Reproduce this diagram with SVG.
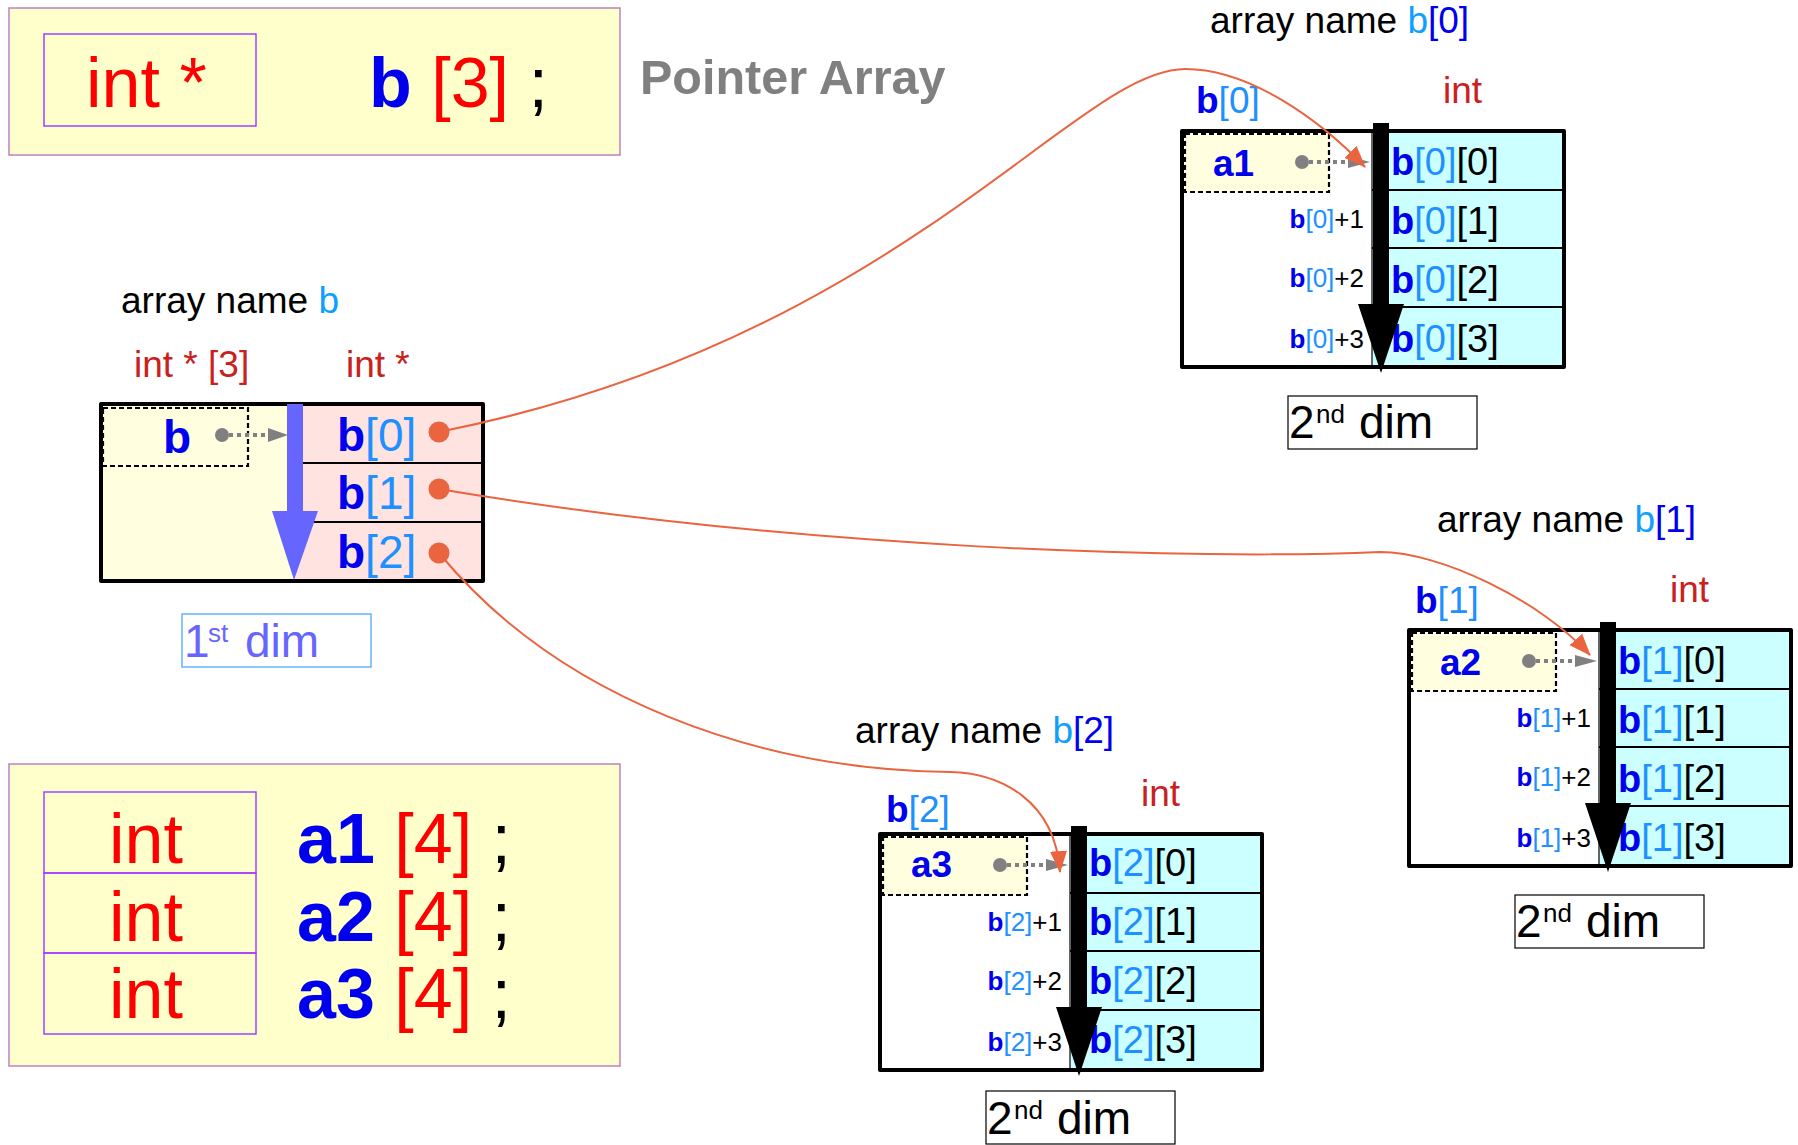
<svg xmlns="http://www.w3.org/2000/svg" width="1798" height="1145" viewBox="0 0 1798 1145">
<style>
text{font-family:"Liberation Sans",Arial,sans-serif}
.bl{fill:#0000ee;font-weight:bold}
.lb{fill:#1e90ff;font-weight:normal}
.bk{fill:#000}
.dr{fill:#c9211e}
.rd{fill:#ff0000}
.nm{font-size:37px}
.cell{font-size:38px}
.off{font-size:26px}
.decl{fill:#ffffcc;stroke:#c080c0;stroke-width:1.5}
.inbox{fill:none;stroke:#a040ff;stroke-width:1.5}
.dot{stroke:#000;stroke-width:2.2;stroke-dasharray:5 3}
.gl{stroke:#808080;stroke-width:4;stroke-dasharray:4 4;fill:none}
.div{stroke:#000;stroke-width:2}
.outer{fill:none;stroke:#000;stroke-width:4;stroke-linejoin:round}
.conn{fill:none;stroke:#e9643f;stroke-width:2}
.dimbox{fill:#fff;stroke:#000;stroke-width:1.2}
</style>
<defs>
<marker id="oarrow" markerUnits="userSpaceOnUse" markerWidth="24" markerHeight="20" refX="21" refY="9" orient="auto" viewBox="0 0 24 18">
<path d="M0,0.5 L22,9 L0,17.5 z" fill="#e9643f"/>
</marker>
<g id="arr2d">
<rect x="0" y="0" width="382" height="236" fill="#fff"/>
<rect x="190" y="0" width="192" height="236" fill="#ccffff"/>
<line x1="190" y1="0" x2="190" y2="236" stroke="#333" stroke-width="1.5"/>
<line class="div" x1="190" y1="59" x2="382" y2="59"/>
<line class="div" x1="190" y1="117" x2="382" y2="117"/>
<line class="div" x1="190" y1="176" x2="382" y2="176"/>
<rect class="dot" x="3" y="3" width="144" height="58" fill="#ffffe0"/>
<circle cx="120" cy="31" r="7" fill="#808080"/>
<line class="gl" x1="127" y1="31" x2="168" y2="31"/>
<path d="M166,25 L188,31 L166,37 z" fill="#808080"/>
<rect class="outer" x="0" y="0" width="382" height="236"/>
</g>
<g id="arrow2d">
<rect x="191" y="-8" width="16" height="182" fill="#000"/>
<path d="M176,173 L222,173 L199,242 z" fill="#000"/>
</g>
</defs>

<g id="decl-b">
<rect class="decl" x="9" y="8" width="611" height="147"/>
<rect class="inbox" x="44" y="34" width="212" height="92"/>
<text x="86" y="107" font-size="70" class="rd">int *</text>
<text x="369" y="107" font-size="70"><tspan class="bl">b</tspan><tspan class="rd"> [3]</tspan><tspan class="bk"> ;</tspan></text>
</g>

<g id="title">
<text x="640" y="94" font-size="48.5" font-weight="bold" fill="#808080">Pointer Array</text>
</g>

<g id="decl-a">
<rect class="decl" x="9" y="764" width="611" height="302"/>
<rect class="inbox" x="44" y="792" width="212" height="81"/>
<rect class="inbox" x="44" y="873" width="212" height="80"/>
<rect class="inbox" x="44" y="953" width="212" height="81"/>
<text x="109" y="863" font-size="70" class="rd">int</text>
<text x="109" y="941" font-size="70" class="rd">int</text>
<text x="109" y="1018" font-size="70" class="rd">int</text>
<text x="297" y="863" font-size="70"><tspan class="bl">a1</tspan><tspan class="rd"> [4]</tspan><tspan class="bk"> ;</tspan></text>
<text x="297" y="941" font-size="70"><tspan class="bl">a2</tspan><tspan class="rd"> [4]</tspan><tspan class="bk"> ;</tspan></text>
<text x="297" y="1018" font-size="70"><tspan class="bl">a3</tspan><tspan class="rd"> [4]</tspan><tspan class="bk"> ;</tspan></text>
</g>

<g id="array-b">
<text x="121" y="313" class="nm"><tspan class="bk">array name </tspan><tspan fill="#0fa0ff">b</tspan></text>
<text x="134" y="377" class="nm dr">int * [3]</text>
<text x="346" y="377" class="nm dr">int *</text>
<rect x="101" y="404" width="192" height="177" fill="#ffffe0"/>
<rect x="293" y="404" width="190" height="177" fill="#ffe3e1"/>
<line class="div" x1="293" y1="463" x2="483" y2="463"/>
<line class="div" x1="293" y1="522" x2="483" y2="522"/>
<rect class="dot" x="103" y="408" width="145" height="58" fill="#ffffe0"/>
<text x="163" y="453" font-size="46" class="bl">b</text>
<circle cx="222" cy="435" r="7" fill="#808080"/>
<line class="gl" x1="229" y1="435" x2="270" y2="435"/>
<path d="M268,428 L288,435 L268,442 z" fill="#808080"/>
<text x="337" y="451" font-size="46"><tspan class="bl">b</tspan><tspan class="lb">[0]</tspan></text>
<text x="337" y="509" font-size="46"><tspan class="bl">b</tspan><tspan class="lb">[1]</tspan></text>
<text x="337" y="568" font-size="46"><tspan class="bl">b</tspan><tspan class="lb">[2]</tspan></text>
<circle cx="439" cy="432" r="10.5" fill="#e9643f"/>
<circle cx="439" cy="489" r="10.5" fill="#e9643f"/>
<circle cx="439" cy="553" r="10.5" fill="#e9643f"/>
<rect class="outer" x="101" y="404" width="382" height="177"/>
<rect x="287" y="404" width="16" height="108" fill="#6666ff"/>
<path d="M272,511 L318,511 L294,580 z" fill="#6666ff"/>
<rect x="182" y="614" width="189" height="53" fill="#fff" stroke="#66b3ff" stroke-width="1.5"/>
<text x="184" y="657" font-size="46" fill="#6666ff">1</text>
<text x="208" y="642" font-size="26" fill="#6666ff">st</text>
<text x="245" y="657" font-size="46" fill="#6666ff">dim</text>
</g>

<g id="array-b0" transform="translate(1182,131)">
<text x="28" y="-98" class="nm"><tspan class="bk">array name </tspan><tspan fill="#0fa0ff">b</tspan><tspan fill="#0000ee">[0]</tspan></text>
<text x="14" y="-18" class="nm"><tspan class="bl">b</tspan><tspan class="lb">[0]</tspan></text>
<text x="261" y="-28" class="nm dr">int</text>
<use href="#arr2d"/>
<text x="31" y="45" font-size="37" class="bl">a1</text>
<text x="209" y="44" class="cell"><tspan class="bl">b</tspan><tspan class="lb">[0]</tspan><tspan class="bk">[0]</tspan></text>
<text x="209" y="103" class="cell"><tspan class="bl">b</tspan><tspan class="lb">[0]</tspan><tspan class="bk">[1]</tspan></text>
<text x="209" y="162" class="cell"><tspan class="bl">b</tspan><tspan class="lb">[0]</tspan><tspan class="bk">[2]</tspan></text>
<text x="209" y="221" class="cell"><tspan class="bl">b</tspan><tspan class="lb">[0]</tspan><tspan class="bk">[3]</tspan></text>
<text x="182" y="97" class="off" text-anchor="end"><tspan class="bl">b</tspan><tspan class="lb">[0]</tspan><tspan class="bk">+1</tspan></text>
<text x="182" y="156" class="off" text-anchor="end"><tspan class="bl">b</tspan><tspan class="lb">[0]</tspan><tspan class="bk">+2</tspan></text>
<text x="182" y="217" class="off" text-anchor="end"><tspan class="bl">b</tspan><tspan class="lb">[0]</tspan><tspan class="bk">+3</tspan></text>
<use href="#arrow2d"/>
<rect class="dimbox" x="106" y="265" width="189" height="53"/>
<text x="107" y="307" font-size="46">2</text>
<text x="134" y="292" font-size="26">nd</text>
<text x="177" y="307" font-size="46">dim</text>
</g>

<g id="array-b1" transform="translate(1409,630)">
<text x="28" y="-98" class="nm"><tspan class="bk">array name </tspan><tspan fill="#0fa0ff">b</tspan><tspan fill="#0000ee">[1]</tspan></text>
<text x="6" y="-17" class="nm"><tspan class="bl">b</tspan><tspan class="lb">[1]</tspan></text>
<text x="261" y="-28" class="nm dr">int</text>
<use href="#arr2d"/>
<text x="31" y="45" font-size="37" class="bl">a2</text>
<text x="209" y="44" class="cell"><tspan class="bl">b</tspan><tspan class="lb">[1]</tspan><tspan class="bk">[0]</tspan></text>
<text x="209" y="103" class="cell"><tspan class="bl">b</tspan><tspan class="lb">[1]</tspan><tspan class="bk">[1]</tspan></text>
<text x="209" y="162" class="cell"><tspan class="bl">b</tspan><tspan class="lb">[1]</tspan><tspan class="bk">[2]</tspan></text>
<text x="209" y="221" class="cell"><tspan class="bl">b</tspan><tspan class="lb">[1]</tspan><tspan class="bk">[3]</tspan></text>
<text x="182" y="97" class="off" text-anchor="end"><tspan class="bl">b</tspan><tspan class="lb">[1]</tspan><tspan class="bk">+1</tspan></text>
<text x="182" y="156" class="off" text-anchor="end"><tspan class="bl">b</tspan><tspan class="lb">[1]</tspan><tspan class="bk">+2</tspan></text>
<text x="182" y="217" class="off" text-anchor="end"><tspan class="bl">b</tspan><tspan class="lb">[1]</tspan><tspan class="bk">+3</tspan></text>
<use href="#arrow2d"/>
<rect class="dimbox" x="106" y="265" width="189" height="53"/>
<text x="107" y="307" font-size="46">2</text>
<text x="134" y="292" font-size="26">nd</text>
<text x="177" y="307" font-size="46">dim</text>
</g>

<g id="array-b2" transform="translate(880,834)">
<text x="-25" y="-91" class="nm"><tspan class="bk">array name </tspan><tspan fill="#0fa0ff">b</tspan><tspan fill="#0000ee">[2]</tspan></text>
<text x="6" y="-12" class="nm"><tspan class="bl">b</tspan><tspan class="lb">[2]</tspan></text>
<text x="261" y="-28" class="nm dr">int</text>
<use href="#arr2d"/>
<text x="31" y="43" font-size="37" class="bl">a3</text>
<text x="209" y="42" class="cell"><tspan class="bl">b</tspan><tspan class="lb">[2]</tspan><tspan class="bk">[0]</tspan></text>
<text x="209" y="101" class="cell"><tspan class="bl">b</tspan><tspan class="lb">[2]</tspan><tspan class="bk">[1]</tspan></text>
<text x="209" y="160" class="cell"><tspan class="bl">b</tspan><tspan class="lb">[2]</tspan><tspan class="bk">[2]</tspan></text>
<text x="209" y="219" class="cell"><tspan class="bl">b</tspan><tspan class="lb">[2]</tspan><tspan class="bk">[3]</tspan></text>
<text x="182" y="97" class="off" text-anchor="end"><tspan class="bl">b</tspan><tspan class="lb">[2]</tspan><tspan class="bk">+1</tspan></text>
<text x="182" y="156" class="off" text-anchor="end"><tspan class="bl">b</tspan><tspan class="lb">[2]</tspan><tspan class="bk">+2</tspan></text>
<text x="182" y="217" class="off" text-anchor="end"><tspan class="bl">b</tspan><tspan class="lb">[2]</tspan><tspan class="bk">+3</tspan></text>
<use href="#arrow2d"/>
<rect class="dimbox" x="106" y="257" width="189" height="53"/>
<text x="107" y="300" font-size="46">2</text>
<text x="134" y="285" font-size="26">nd</text>
<text x="177" y="300" font-size="46">dim</text>
</g>

<g id="connectors">
<path class="conn" marker-end="url(#oarrow)" d="M439,432 C900,340 1075,69 1185,69 C1250,69 1320,120 1365,167"/>
<path class="conn" marker-end="url(#oarrow)" d="M439,489 C800,550 1200,560 1380,552 C1440,552 1540,600 1590,655"/>
<path class="conn" marker-end="url(#oarrow)" d="M439,553 C560,700 760,770 950,772 C1000,773 1055,800 1060,872"/>
</g>
</svg>
